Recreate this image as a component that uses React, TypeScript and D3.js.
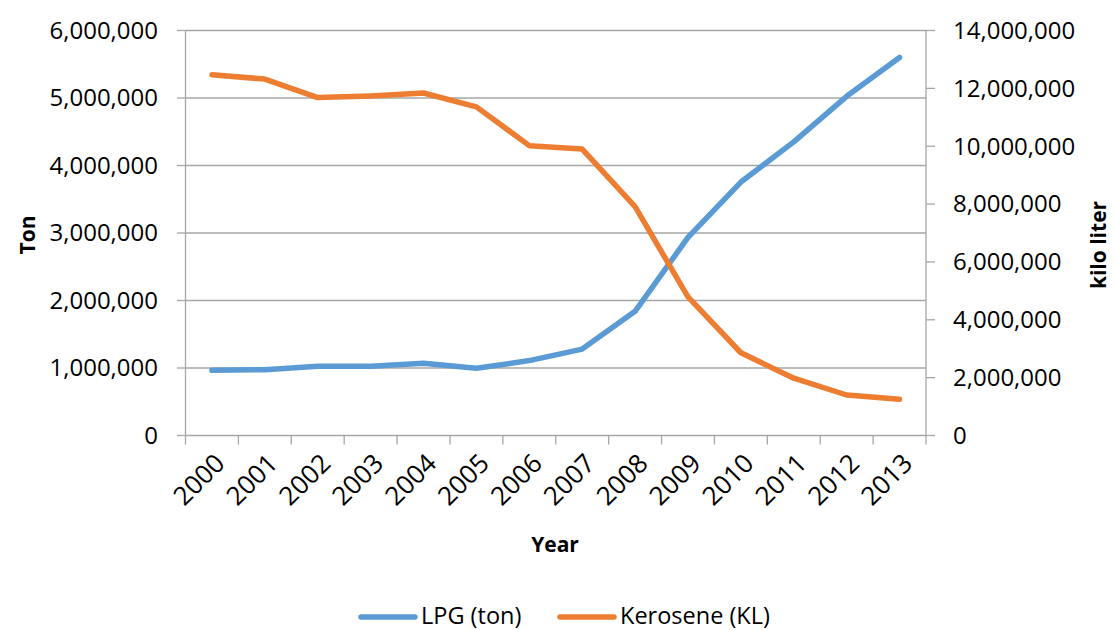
import React, { useEffect, useRef } from "react";
import * as d3 from "d3";

const years = ["2000","2001","2002","2003","2004","2005","2006","2007","2008","2009","2010","2011","2012","2013"];
const lpgTon = [965000, 975000, 1025000, 1025000, 1070000, 995000, 1110000, 1280000, 1840000, 2935000, 3755000, 4350000, 5025000, 5600000];
const keroseneKL = [12470000, 12320000, 11680000, 11740000, 11840000, 11360000, 10020000, 9900000, 7910000, 4790000, 2860000, 1980000, 1400000, 1250000];
const leftTicks = [0, 1000000, 2000000, 3000000, 4000000, 5000000, 6000000];
const rightTicks = [0, 2000000, 4000000, 6000000, 8000000, 10000000, 12000000, 14000000];
const seriesNames = ["LPG (ton)", "Kerosene (KL)"];
const colors = ["#5B9BD5", "#ED7D31"];

const W = 1117, H = 630;
const L = 185.5, R = 926, T = 30.5, B = 435.5;
const FONT = "'Open Sans', 'Liberation Sans', sans-serif";

export default function App() {
  const ref = useRef<SVGSVGElement>(null);
  useEffect(() => {
    const svg = d3.select(ref.current!);
    svg.selectAll("*").remove();
    const x = d3.scaleBand<string>().domain(years).range([L, R]).padding(0);
    const yL = d3.scaleLinear().domain([0, 6000000]).range([B, T]);
    const yR = d3.scaleLinear().domain([0, 14000000]).range([B, T]);
    const fmt = d3.format(",");
    const grid = "#A6A6A6";

    // gridlines
    svg.append("g").selectAll("line").data(leftTicks.filter(d => d > 0)).join("line")
      .attr("x1", L).attr("x2", R).attr("y1", d => yL(d)).attr("y2", d => yL(d))
      .attr("stroke", grid).attr("stroke-width", 1.3);

    // axes lines
    svg.append("line").attr("x1", L).attr("x2", L).attr("y1", T).attr("y2", B).attr("stroke", grid).attr("stroke-width", 1.3);
    svg.append("line").attr("x1", R).attr("x2", R).attr("y1", T).attr("y2", B).attr("stroke", grid).attr("stroke-width", 1.3);
    svg.append("line").attr("x1", L).attr("x2", R).attr("y1", B).attr("y2", B).attr("stroke", grid).attr("stroke-width", 1.3);

    // left ticks
    const lg = svg.append("g");
    lg.selectAll("line").data(leftTicks).join("line")
      .attr("x1", L - 8.5).attr("x2", L).attr("y1", d => yL(d)).attr("y2", d => yL(d))
      .attr("stroke", grid).attr("stroke-width", 1.3);
    lg.selectAll("text").data(leftTicks).join("text")
      .attr("x", 158).attr("y", d => yL(d)).attr("dy", "0.35em")
      .attr("text-anchor", "end").attr("font-family", FONT).attr("font-size", 24)
      .attr("fill", "#000").text(d => fmt(d));

    // right ticks
    const rg = svg.append("g");
    rg.selectAll("line").data(rightTicks).join("line")
      .attr("x1", R).attr("x2", R + 9).attr("y1", d => yR(d)).attr("y2", d => yR(d))
      .attr("stroke", grid).attr("stroke-width", 1.3);
    rg.selectAll("text").data(rightTicks).join("text")
      .attr("x", 953).attr("y", d => yR(d)).attr("dy", "0.35em")
      .attr("text-anchor", "start").attr("font-family", FONT).attr("font-size", 24)
      .attr("fill", "#000").text(d => fmt(d));

    // x ticks at band boundaries
    const bounds = years.map(y => x(y)!).concat([R]);
    svg.append("g").selectAll("line").data(bounds).join("line")
      .attr("x1", d => d).attr("x2", d => d).attr("y1", B).attr("y2", B + 9)
      .attr("stroke", grid).attr("stroke-width", 1.3);
    svg.append("g").selectAll("text").data(years).join("text")
      .attr("transform", d => `translate(${x(d)! + x.bandwidth() / 2 + 8},${B + 23}) rotate(-45)`)
      .attr("text-anchor", "end").attr("dy", "0.35em")
      .attr("font-family", FONT).attr("font-size", 26).attr("fill", "#000").text(d => d);

    // lines
    const line = (ys: d3.ScaleLinear<number, number>) => d3.line<number>()
      .x((_, i) => x(years[i])! + x.bandwidth() / 2).y(d => ys(d));
    svg.append("path").datum(lpgTon).attr("d", line(yL)).attr("fill", "none")
      .attr("stroke", colors[0]).attr("stroke-width", 5.5).attr("stroke-linecap", "round").attr("stroke-linejoin", "round");
    svg.append("path").datum(keroseneKL).attr("d", line(yR)).attr("fill", "none")
      .attr("stroke", colors[1]).attr("stroke-width", 5.5).attr("stroke-linecap", "round").attr("stroke-linejoin", "round");

    // axis titles
    svg.append("text").attr("x", 555).attr("y", 552).attr("text-anchor", "middle")
      .attr("font-family", FONT).attr("font-weight", "bold").attr("font-size", 21).text("Year");
    svg.append("text").attr("transform", "translate(35,235) rotate(-90)").attr("text-anchor", "middle")
      .attr("font-family", FONT).attr("font-weight", "bold").attr("font-size", 21).text("Ton");
    svg.append("text").attr("transform", "translate(1106,245) rotate(-90)").attr("text-anchor", "middle")
      .attr("font-family", FONT).attr("font-weight", "bold").attr("font-size", 21).text("kilo liter");

    // legend
    const legX = [358, 557];
    seriesNames.forEach((n, i) => {
      svg.append("line").attr("x1", legX[i] + 3).attr("x2", legX[i] + 57).attr("y1", 617).attr("y2", 617)
        .attr("stroke", colors[i]).attr("stroke-width", 5.5).attr("stroke-linecap", "round");
      svg.append("text").attr("x", legX[i] + 63).attr("y", 616).attr("dy", "0.35em")
        .attr("font-family", FONT).attr("font-size", 23.5).attr("fill", "#000").text(n);
    });
  }, []);
  return (
    <svg ref={ref} width={W} height={H} style={{ position: "absolute", left: 0, top: 0, background: "#fff" }} />
  );
}
